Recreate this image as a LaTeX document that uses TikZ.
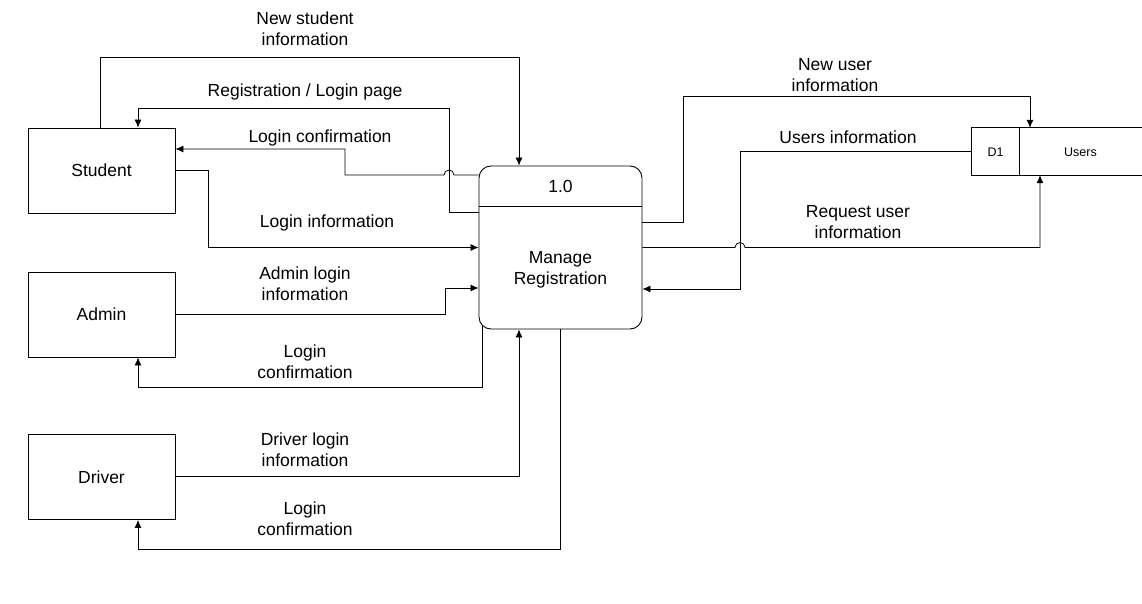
\documentclass[tikz,border=0pt]{standalone}
\usepackage{fontspec}
\setmainfont{Liberation Sans}
\usetikzlibrary{arrows.meta,positioning}
\tikzset{>={Latex[length=8pt,width=7pt]}}

\begin{document}
\begin{tikzpicture}[x=1pt, y=-1pt,
    entity/.style={draw, line width=0.8pt, minimum width=147pt, minimum height=85pt,
        font=\fontsize{17.5}{21}\selectfont},
    process/.style={draw, line width=0.9pt, rounded corners=12pt,
        minimum width=163pt, minimum height=163pt},
    flow/.style={->, line width=0.8pt},
    lbl/.style={align=center, inner sep=0pt, font=\fontsize{17.5}{21}\selectfont},
    small/.style={inner sep=0pt, font=\fontsize{12.5}{15}\selectfont}]
    \useasboundingbox (0,0) rectangle (1142,604);

    % External entities
    \node[entity] (student) at (101.5,170.5) {Student};
    \node[entity] (admin) at (101.5,314.5) {Admin};
    \node[entity] (driver) at (101.5,477) {Driver};

    % Process 1.0
    \node[process] (proc) at (560.5,247.5) {};
    \draw[line width=0.8pt] (proc.west |- 0,206) -- (proc.east |- 0,206);
    \node[lbl] (procid) at (560.5,186) {1.0};
    \node[lbl] (procname) at (560.5,269.5) {Manage\\Registration};

    % Data store D1
    \node[minimum width=170pt, minimum height=47pt, inner sep=0pt] (users) at (1057,151.5) {};
    \draw[line width=0.8pt] (users.north east) -- (users.north west) -- (users.south west) -- (users.south east);
    \draw[line width=0.8pt] (users.north -| 1019,0) -- (users.south -| 1019,0);
    \node[small] (d1) at (995.5,152.5) {D1};
    \node[small] (usersname) at (1080.5,152.5) {Users};

    % Student flows
    \draw[flow] (student.north -| 100,0) |- (519,57) -- (proc.north -| 519,0);
    \draw[flow] (proc.west |- 0,212) -- (449,212) |- (138,108) -- (student.north -| 138,0);
    \draw[flow] (proc.west |- 0,175) -- (454,175) arc[start angle=0, end angle=180, radius=5pt]
        -- (345,175) |- (student.east |- 0,149);
    \draw[flow] (student.east) -- (208,170.5) |- (proc.west);

    % Admin flows
    \draw[flow] (admin.east) -- (445,314.5) |- (proc.west |- 0,288);
    \draw[flow] ([shift={(4pt,4pt)}]proc.south west) |- (138,387) -- (admin.south -| 138,0);

    % Driver flows
    \draw[flow] (driver.east |- 0,476.5) -| (proc.south -| 519,0);
    \draw[flow] (proc.south) |- (138,549) -- (driver.south -| 138,0);

    % Data store flows
    \draw[flow] (proc.east |- 0,222) -- (683,222) |- (1030,96) -- (users.north -| 1030,0);
    \draw[flow] (users.west) -- (740,151.5) |- (proc.east |- 0,289);
    \draw[flow] (proc.east) -- (735,247.5) arc[start angle=180, end angle=0, radius=5pt]
        -- (1040,247.5) -- (users.south -| 1040,0);

    % Flow labels
    \node[lbl] (l1) at (305,29) {New student\\information};
    \node[lbl] (l2) at (305,91.5) {Registration / Login page};
    \node[lbl] (l3) at (320,137.5) {Login confirmation};
    \node[lbl] (l4) at (327,222.5) {Login information};
    \node[lbl] (l5) at (305,284) {Admin login\\information};
    \node[lbl] (l6) at (305,362) {Login\\confirmation};
    \node[lbl] (l7) at (305,450) {Driver login\\information};
    \node[lbl] (l8) at (305,519) {Login\\confirmation};
    \node[lbl] (l9) at (835,75) {New user\\information};
    \node[lbl] (l10) at (848,137.5) {Users information};
    \node[lbl] (l11) at (858,222) {Request user\\information};
\end{tikzpicture}
\end{document}
